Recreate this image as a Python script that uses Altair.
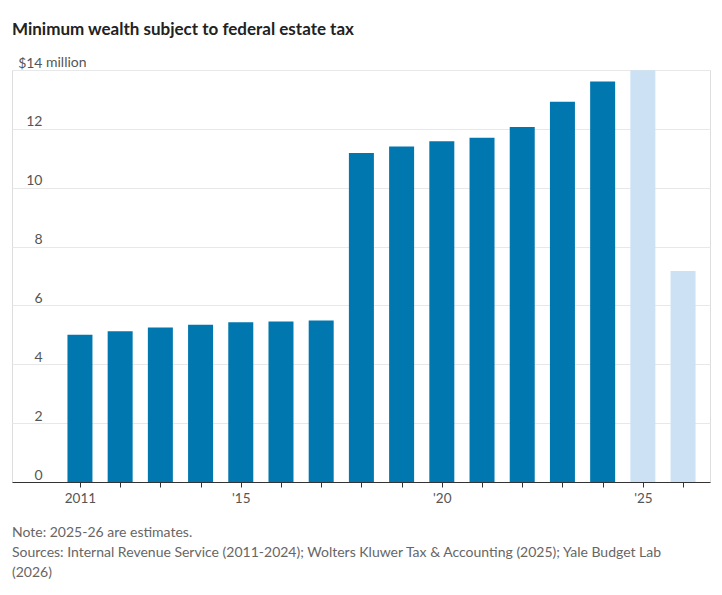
import altair as alt
import pandas as pd

years = list(range(2011, 2027))
values = [5.0, 5.12, 5.25, 5.34, 5.43, 5.45, 5.49, 11.18, 11.4, 11.58, 11.7, 12.06, 12.92, 13.61, 13.99, 7.17]
status = ["actual"] * 14 + ["estimate"] * 2

title_text = "Minimum wealth subject to federal estate tax"
note_lines = [
    "Note: 2025-26 are estimates.",
    "Sources: Internal Revenue Service (2011-2024); Wolters Kluwer Tax & Accounting (2025); Yale Budget Lab",
    "(2026)",
]

df = pd.DataFrame({"year": years, "value": values, "status": status})

FONT = "Lato"
W, H = 698, 412

x_scale = alt.Scale(domain=[2009.31, 2026.67], nice=False, zero=False, padding=0)
y_scale = alt.Scale(domain=[0, 14], nice=False)

bars = alt.Chart(df).mark_bar(size=25).encode(
    x=alt.X("year:Q", scale=x_scale, title=None,
            axis=alt.Axis(values=years, grid=False, domainColor="#333333", domainWidth=1,
                          tickColor="#333333", tickSize=5, labelColor="#555555",
                          labelFont=FONT, labelFontSize=13.5, labelPadding=4,
                          labelExpr="datum.value == 2011 ? '2011' : (datum.value % 5 == 0 ? \"'\" + substring(toString(datum.value), 2, 4) : '')")),
    y=alt.Y("value:Q", scale=y_scale, title=None,
            axis=alt.Axis(values=[0, 2, 4, 6, 8, 10, 12, 14], grid=True, gridColor="#e8e8e8",
                          domain=False, ticks=False, tickSize=0, labelPadding=-30,
                          labelAlign="right", labelBaseline="bottom", labelOffset=0,
                          labelColor="#555555", labelFont=FONT, labelFontSize=14,
                          labelExpr="datum.value == 14 ? '$14' : datum.label")),
    color=alt.Color("status:N", scale=alt.Scale(domain=["actual", "estimate"],
                                                 range=["#0077ae", "#cce1f4"]), legend=None),
)

million = alt.Chart(pd.DataFrame({"t": ["million"], "v": [14]})).mark_text(
    align="left", baseline="bottom", dy=0, font=FONT, fontSize=14, color="#555555"
).encode(x=alt.value(34), y=alt.Y("v:Q", scale=y_scale), text="t:N")

title = alt.Chart(pd.DataFrame({"t": [title_text]})).mark_text(
    align="left", baseline="alphabetic", font=FONT, fontSize=17, fontWeight="bold", color="#222222"
).encode(x=alt.value(0), y=alt.value(-35), text="t:N")


def note(txt, yy):
    return alt.Chart(pd.DataFrame({"t": [txt]})).mark_text(
        align="left", baseline="alphabetic", font=FONT, fontSize=14, color="#666666"
    ).encode(x=alt.value(0), y=alt.value(yy), text="t:N")


notes = [note(note_lines[0], H + 55), note(note_lines[1], H + 75), note(note_lines[2], H + 95)]

chart = alt.layer(bars, million, title, *notes).properties(
    width=W, height=H,
    autosize=alt.AutoSizeParams(type="none"),
    padding={"left": 4, "top": 62, "right": 4, "bottom": 105},
).configure_view(stroke=None).configure(background="white")

chart.save("out.html", embed_options={"renderer": "svg", "actions": False})
